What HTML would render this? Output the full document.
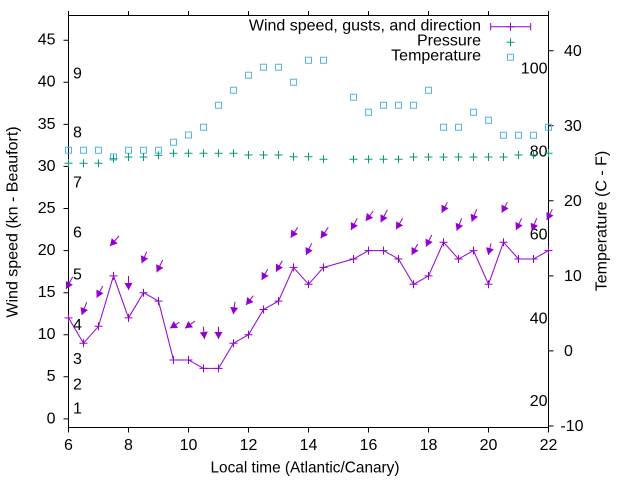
<!DOCTYPE html>
<html>
<head>
<meta charset="utf-8">
<style>
html,body{margin:0;padding:0;background:#fff;}
svg{display:block;}
text{font-family:"Liberation Sans",Arial,sans-serif;font-size:16px;fill:#000;}
</style>
</head>
<body>
<svg width="640" height="480" viewBox="0 0 640 480" xmlns="http://www.w3.org/2000/svg">
<defs>
<path id="pl" d="M-4,0h8M0,-4v8"/>
<path id="sq" d="M-3,-3h6v6h-6z"/>
<marker id="ah" viewBox="-8 -5 9 10" markerWidth="9" markerHeight="10" refX="0" refY="0" orient="auto" markerUnits="userSpaceOnUse">
<path d="M0,0L-7,-4L-7,4Z" fill="#9400d3"/>
</marker>
</defs>
<rect x="0" y="0" width="640" height="480" fill="#fff"/>

<!-- border -->
<rect x="68.5" y="15.5" width="480" height="412" fill="none" stroke="#000" stroke-width="1"/>

<!-- ticks -->
<g stroke="#000" stroke-width="1">
<path d="M63.5,418.9h5M63.5,376.8h5M63.5,334.7h5M63.5,292.7h5M63.5,250.6h5M63.5,208.5h5M63.5,166.4h5M63.5,124.4h5M63.5,82.3h5M63.5,40.2h5"/>
<path d="M68.5,427.5v5M128.5,427.5v5M188.5,427.5v5M248.5,427.5v5M308.5,427.5v5M368.5,427.5v5M428.5,427.5v5M488.5,427.5v5M548.5,427.5v5"/>
<path d="M68.5,15.5v-4.5M128.5,15.5v-4.5M188.5,15.5v-4.5M248.5,15.5v-4.5M308.5,15.5v-4.5M368.5,15.5v-4.5M428.5,15.5v-4.5M488.5,15.5v-4.5M548.5,15.5v-4.5"/>
<path d="M548.5,426h5M548.5,350.9h5M548.5,275.9h5M548.5,200.8h5M548.5,125.8h5M548.5,50.7h5"/>
</g>

<!-- left tick labels -->
<g text-anchor="end">
<text x="55.5" y="423.3">0</text>
<text x="55.5" y="381.2">5</text>
<text x="55.5" y="339.1">10</text>
<text x="55.5" y="297.1">15</text>
<text x="55.5" y="255.0">20</text>
<text x="55.5" y="212.9">25</text>
<text x="55.5" y="170.8">30</text>
<text x="55.5" y="128.8">35</text>
<text x="55.5" y="86.7">40</text>
<text x="55.5" y="44.6">45</text>
</g>

<!-- bottom tick labels -->
<g text-anchor="middle">
<text x="68.5" y="450">6</text>
<text x="128.5" y="450">8</text>
<text x="188.5" y="450">10</text>
<text x="248.5" y="450">12</text>
<text x="308.5" y="450">14</text>
<text x="368.5" y="450">16</text>
<text x="428.5" y="450">18</text>
<text x="488.5" y="450">20</text>
<text x="548.5" y="450">22</text>
</g>

<!-- right tick labels -->
<text x="583.5" y="431" text-anchor="end">-10</text>
<text x="564" y="356.2">0</text>
<text x="564" y="281.2">10</text>
<text x="564" y="206.1">20</text>
<text x="564" y="131.1">30</text>
<text x="564" y="56">40</text>

<!-- Beaufort labels -->
<text x="73" y="413.7">1</text>
<text x="73" y="389.3">2</text>
<text x="73" y="364">3</text>
<text x="73" y="330">4</text>
<text x="73" y="279.3">5</text>
<text x="73" y="237.3">6</text>
<text x="73" y="187.3">7</text>
<text x="73" y="137.3">8</text>
<text x="73" y="78.3">9</text>

<!-- Fahrenheit labels -->
<g text-anchor="end">
<text x="547.5" y="73.3">100</text>
<text x="547.5" y="156.7">80</text>
<text x="547.5" y="239.7">60</text>
<text x="547.5" y="323.3">40</text>
<text x="547.5" y="406">20</text>
</g>

<!-- axis labels -->
<text transform="translate(17.5,222) rotate(-90)" text-anchor="middle">Wind speed (kn - Beaufort)</text>
<text transform="translate(606.5,221) rotate(-90)" text-anchor="middle">Temperature (C - F)</text>
<text x="210.5" y="472.7" textLength="189" lengthAdjust="spacingAndGlyphs">Local time (Atlantic/Canary)</text>

<!-- temperature squares -->
<g fill="none" stroke="#56b4e9" stroke-width="1">
<use href="#sq" x="68.5" y="150.3"/>
<use href="#sq" x="83.5" y="150.3"/>
<use href="#sq" x="98.5" y="150.3"/>
<use href="#sq" x="113.5" y="157"/>
<use href="#sq" x="128.5" y="150.3"/>
<use href="#sq" x="143.5" y="150.3"/>
<use href="#sq" x="158.5" y="150.3"/>
<use href="#sq" x="173.5" y="142.3"/>
<use href="#sq" x="188.5" y="135"/>
<use href="#sq" x="203.5" y="127.3"/>
<use href="#sq" x="218.5" y="105.3"/>
<use href="#sq" x="233.5" y="90.3"/>
<use href="#sq" x="248.5" y="75.3"/>
<use href="#sq" x="263.5" y="67.3"/>
<use href="#sq" x="278.5" y="67.3"/>
<use href="#sq" x="293.5" y="82.3"/>
<use href="#sq" x="308.5" y="60.3"/>
<use href="#sq" x="323.5" y="60.3"/>
<use href="#sq" x="353.5" y="97.3"/>
<use href="#sq" x="368.5" y="112.3"/>
<use href="#sq" x="383.5" y="105.3"/>
<use href="#sq" x="398.5" y="105.3"/>
<use href="#sq" x="413.5" y="105.3"/>
<use href="#sq" x="428.5" y="90.3"/>
<use href="#sq" x="443.5" y="127.3"/>
<use href="#sq" x="458.5" y="127.3"/>
<use href="#sq" x="473.5" y="112.3"/>
<use href="#sq" x="488.5" y="120.3"/>
<use href="#sq" x="503.5" y="135.3"/>
<use href="#sq" x="518.5" y="135.3"/>
<use href="#sq" x="533.5" y="135.3"/>
<use href="#sq" x="548.5" y="127.3"/>
</g>

<!-- pressure plus -->
<g fill="none" stroke="#009e73" stroke-width="1">
<use href="#pl" x="68.5" y="163.3"/>
<use href="#pl" x="83.5" y="163.3"/>
<use href="#pl" x="98.5" y="163.3"/>
<use href="#pl" x="113.5" y="158.7"/>
<use href="#pl" x="128.5" y="157"/>
<use href="#pl" x="143.5" y="157"/>
<use href="#pl" x="158.5" y="155.3"/>
<use href="#pl" x="173.5" y="153.3"/>
<use href="#pl" x="188.5" y="153.3"/>
<use href="#pl" x="203.5" y="153.3"/>
<use href="#pl" x="218.5" y="153.3"/>
<use href="#pl" x="233.5" y="153.3"/>
<use href="#pl" x="248.5" y="155"/>
<use href="#pl" x="263.5" y="155"/>
<use href="#pl" x="278.5" y="155"/>
<use href="#pl" x="293.5" y="156.7"/>
<use href="#pl" x="308.5" y="156.7"/>
<use href="#pl" x="323.5" y="159.3"/>
<use href="#pl" x="353.5" y="159.3"/>
<use href="#pl" x="368.5" y="159.3"/>
<use href="#pl" x="383.5" y="159.3"/>
<use href="#pl" x="398.5" y="159.3"/>
<use href="#pl" x="413.5" y="157"/>
<use href="#pl" x="428.5" y="157"/>
<use href="#pl" x="443.5" y="157"/>
<use href="#pl" x="458.5" y="157"/>
<use href="#pl" x="473.5" y="157"/>
<use href="#pl" x="488.5" y="157"/>
<use href="#pl" x="503.5" y="157"/>
<use href="#pl" x="518.5" y="155"/>
<use href="#pl" x="533.5" y="155"/>
<use href="#pl" x="548.5" y="153.3"/>
</g>

<!-- wind speed line -->
<polyline fill="none" stroke="#9400d3" stroke-width="1" points="68.5,317.9 83.5,343.2 98.5,326.3 113.5,275.9 128.5,317.9 143.5,292.7 158.5,301.1 173.5,360.0 188.5,360.0 203.5,368.4 218.5,368.4 233.5,343.2 248.5,334.7 263.5,309.5 278.5,301.1 293.5,267.4 308.5,284.3 323.5,267.4 353.5,259.0 368.5,250.6 383.5,250.6 398.5,259.0 413.5,284.3 428.5,275.9 443.5,242.2 458.5,259.0 473.5,250.6 488.5,284.3 503.5,242.2 518.5,259.0 533.5,259.0 548.5,250.6"/>
<g fill="none" stroke="#9400d3" stroke-width="1">
<use href="#pl" x="68.5" y="317.9"/>
<use href="#pl" x="83.5" y="343.2"/>
<use href="#pl" x="98.5" y="326.3"/>
<use href="#pl" x="113.5" y="275.9"/>
<use href="#pl" x="128.5" y="317.9"/>
<use href="#pl" x="143.5" y="292.7"/>
<use href="#pl" x="158.5" y="301.1"/>
<use href="#pl" x="173.5" y="360.0"/>
<use href="#pl" x="188.5" y="360.0"/>
<use href="#pl" x="203.5" y="368.4"/>
<use href="#pl" x="218.5" y="368.4"/>
<use href="#pl" x="233.5" y="343.2"/>
<use href="#pl" x="248.5" y="334.7"/>
<use href="#pl" x="263.5" y="309.5"/>
<use href="#pl" x="278.5" y="301.1"/>
<use href="#pl" x="293.5" y="267.4"/>
<use href="#pl" x="308.5" y="284.3"/>
<use href="#pl" x="323.5" y="267.4"/>
<use href="#pl" x="353.5" y="259.0"/>
<use href="#pl" x="368.5" y="250.6"/>
<use href="#pl" x="383.5" y="250.6"/>
<use href="#pl" x="398.5" y="259.0"/>
<use href="#pl" x="413.5" y="284.3"/>
<use href="#pl" x="428.5" y="275.9"/>
<use href="#pl" x="443.5" y="242.2"/>
<use href="#pl" x="458.5" y="259.0"/>
<use href="#pl" x="473.5" y="250.6"/>
<use href="#pl" x="488.5" y="284.3"/>
<use href="#pl" x="503.5" y="242.2"/>
<use href="#pl" x="518.5" y="259.0"/>
<use href="#pl" x="533.5" y="259.0"/>
<use href="#pl" x="548.5" y="250.6"/>
</g>

<!-- wind direction arrows -->
<g stroke="#9400d3" stroke-width="1" marker-end="url(#ah)">
<line x1="72.7" y1="276.7" x2="66" y2="289"/>
<line x1="86.7" y1="302.3" x2="81.7" y2="315"/>
<line x1="102.7" y1="286" x2="96.7" y2="297.7"/>
<line x1="119" y1="236" x2="110" y2="246"/>
<line x1="128.5" y1="276" x2="128.5" y2="290"/>
<line x1="146.7" y1="251.7" x2="141.7" y2="263.3"/>
<line x1="162.7" y1="260" x2="156.7" y2="272.3"/>
<line x1="179.3" y1="322.3" x2="170" y2="328.3"/>
<line x1="195" y1="321" x2="185" y2="328.3"/>
<line x1="203.3" y1="326.7" x2="204.5" y2="339"/>
<line x1="218.5" y1="326.7" x2="218.5" y2="339"/>
<line x1="235" y1="301.7" x2="233.3" y2="314.3"/>
<line x1="253.3" y1="295.7" x2="246" y2="305"/>
<line x1="267.7" y1="269.3" x2="261.7" y2="280"/>
<line x1="282.3" y1="260.7" x2="276" y2="271.7"/>
<line x1="297.7" y1="227.3" x2="290.7" y2="237.7"/>
<line x1="311.7" y1="243.3" x2="306" y2="255"/>
<line x1="328.3" y1="227.3" x2="320.7" y2="238.3"/>
<line x1="357.3" y1="218.3" x2="351" y2="230"/>
<line x1="373.3" y1="211" x2="365.7" y2="221"/>
<line x1="387.3" y1="210" x2="380.7" y2="222.3"/>
<line x1="402.7" y1="218.3" x2="396" y2="229.3"/>
<line x1="417.7" y1="244" x2="411.7" y2="255"/>
<line x1="431.7" y1="235" x2="426" y2="246.7"/>
<line x1="447.3" y1="202.3" x2="441.7" y2="212.7"/>
<line x1="461.7" y1="218.3" x2="456.7" y2="230.7"/>
<line x1="476.7" y1="209.3" x2="471.7" y2="221.7"/>
<line x1="491" y1="243.3" x2="488.3" y2="255"/>
<line x1="507.3" y1="202.3" x2="501.7" y2="212.7"/>
<line x1="521.7" y1="218.3" x2="516" y2="230"/>
<line x1="536.7" y1="218.3" x2="531.7" y2="230.7"/>
<line x1="552.3" y1="209.3" x2="546.7" y2="220"/>
</g>

<!-- legend -->
<text x="481" y="30.7" text-anchor="end">Wind speed, gusts, and direction</text>
<text x="481" y="45.7" text-anchor="end">Pressure</text>
<text x="481" y="60.7" text-anchor="end">Temperature</text>
<g stroke="#9400d3" stroke-width="1" fill="none">
<path d="M490.7,26.7H530.7M490.7,23V30.4M530.7,23V30.4"/>
<use href="#pl" x="510.5" y="26.7"/>
</g>
<use href="#pl" x="510.5" y="42.3" stroke="#009e73" fill="none"/>
<use href="#sq" x="510.5" y="57.3" stroke="#56b4e9" fill="none"/>
</svg>
</body>
</html>
